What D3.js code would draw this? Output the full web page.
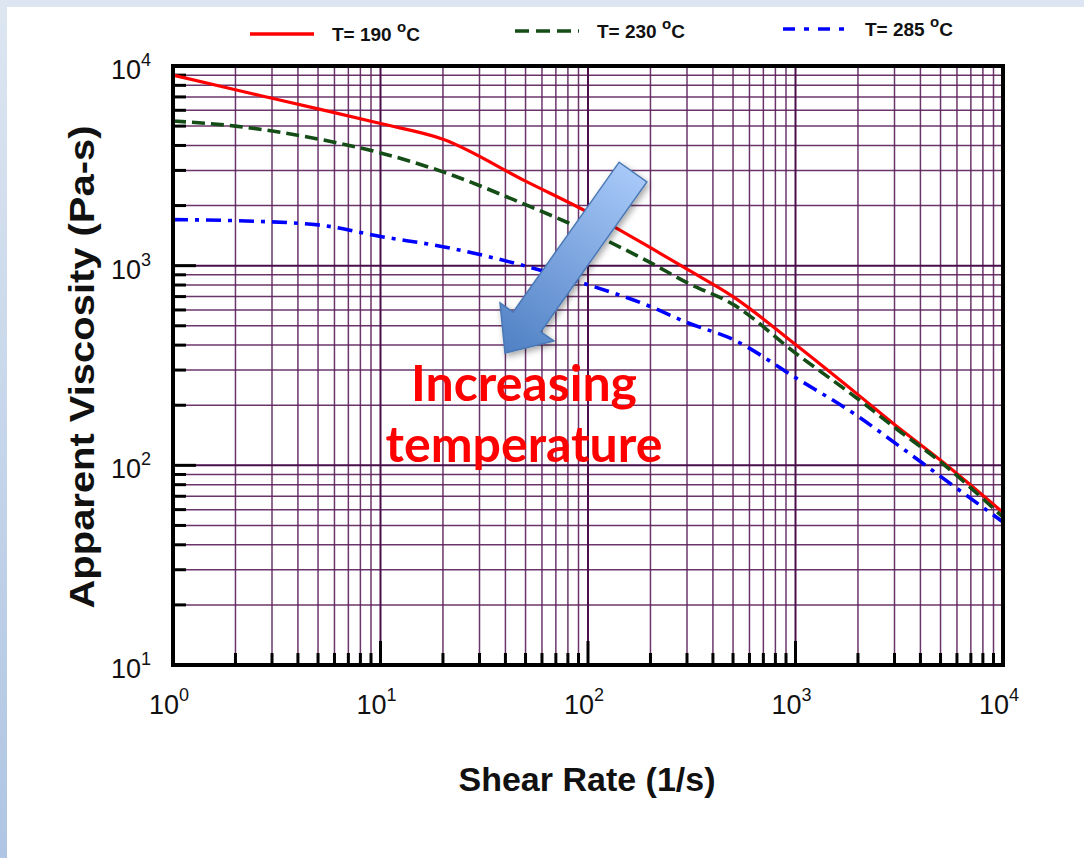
<!DOCTYPE html>
<html>
<head>
<meta charset="utf-8">
<script src="https://cdn.jsdelivr.net/npm/d3@7"></script>
<style>
  body { margin: 0; background: #fff; }
  svg { display: block; }
</style>
</head>
<body>
<div id="chart"></div>
<script>
// shear rate (1/s) and apparent viscosity (Pa-s)
var shearRates = [1, 2, 5, 10, 20, 50, 100, 200, 300, 500, 1000, 2000, 3000, 5000, 10000];
var visc190 = [9000, 7600, 6100, 5150, 4300, 2650, 1850, 1230, 960, 700, 403, 226, 160, 106, 58];
var visc230 = [5300, 5000, 4310, 3670, 2950, 2020, 1480, 1035, 822, 640, 365, 215, 155, 104, 55];
var visc285 = [1700, 1680, 1600, 1400, 1245, 995, 803, 624, 519, 427, 275, 176, 130, 88, 52];
var seriesNames = ['190', '230', '285'];
var xDecades = [1, 10, 100, 1000, 10000];
var yDecades = [10, 100, 1000, 10000];

var width = 1084, height = 858;
var plotLeft = 173, plotRight = 1003, plotTop = 66, plotBottom = 665;

var svg = d3.select('#chart').append('svg')
  .attr('width', width)
  .attr('height', height);

var defs = svg.append('defs');

/* page background bands */
var bandGrad = defs.append('linearGradient').attr('id', 'band')
  .attr('x1', 0).attr('y1', 0).attr('x2', 0).attr('y2', 1);
bandGrad.append('stop').attr('offset', '0%').attr('stop-color', '#dde6f1');
bandGrad.append('stop').attr('offset', '100%').attr('stop-color', '#afc5e3');

svg.append('rect').attr('width', width).attr('height', 7).attr('fill', '#dce5f1');
svg.append('rect').attr('width', 7).attr('height', height).attr('fill', 'url(#band)');

/* scales */
var x = d3.scaleLog().domain([1, 10000]).range([plotLeft, plotRight]);
var y = d3.scaleLog().domain([10, 10000]).range([plotBottom, plotTop]);

function minors(domain) {
  var out = [];
  for (var d = domain[0]; d < domain[1]; d *= 10) {
    for (var k = 2; k <= 9; k++) out.push(d * k);
  }
  return out;
}
var xMinor = minors([1, 10000]);
var yMinor = minors([10, 10000]);

/* grid */
var grid = svg.append('g').attr('class', 'grid');
grid.selectAll('.vminor').data(xMinor).enter().append('line')
  .attr('x1', d => x(d)).attr('x2', d => x(d))
  .attr('y1', plotTop).attr('y2', plotBottom)
  .attr('stroke', '#5b1f5b').attr('stroke-width', 1.5).attr('stroke-opacity', 0.9);
grid.selectAll('.hminor').data(yMinor).enter().append('line')
  .attr('y1', d => y(d)).attr('y2', d => y(d))
  .attr('x1', plotLeft).attr('x2', plotRight)
  .attr('stroke', '#5b1f5b').attr('stroke-width', 1.5).attr('stroke-opacity', 0.9);
grid.selectAll('.vmajor').data(xDecades.slice(1, -1)).enter().append('line')
  .attr('x1', d => x(d)).attr('x2', d => x(d))
  .attr('y1', plotTop).attr('y2', plotBottom)
  .attr('stroke', '#4a0f4a').attr('stroke-width', 2);
grid.selectAll('.hmajor').data(yDecades.slice(1, -1)).enter().append('line')
  .attr('y1', d => y(d)).attr('y2', d => y(d))
  .attr('x1', plotLeft).attr('x2', plotRight)
  .attr('stroke', '#4a0f4a').attr('stroke-width', 2);

/* inward ticks */
var ticks = svg.append('g').attr('stroke', '#000').attr('stroke-width', 3);
ticks.selectAll('.xt').data(xMinor).enter().append('line')
  .attr('x1', d => x(d)).attr('x2', d => x(d))
  .attr('y1', plotBottom).attr('y2', plotBottom - 12);
ticks.selectAll('.xT').data(xDecades.slice(1, -1)).enter().append('line')
  .attr('x1', d => x(d)).attr('x2', d => x(d))
  .attr('y1', plotBottom).attr('y2', plotBottom - 24);
ticks.selectAll('.yt').data(yMinor).enter().append('line')
  .attr('y1', d => y(d)).attr('y2', d => y(d))
  .attr('x1', plotLeft).attr('x2', plotLeft + 13);
ticks.selectAll('.yT').data(yDecades.slice(1, -1)).enter().append('line')
  .attr('y1', d => y(d)).attr('y2', d => y(d))
  .attr('x1', plotLeft).attr('x2', plotLeft + 23);

/* curves */
var line = d3.line()
  .x(d => x(d[0]))
  .y(d => y(d[1]))
  .curve(d3.curveMonotoneX);

var series = [
  { name: seriesNames[0], values: visc190, color: '#ff0000', dash: null, legendDash: null, w: 3.2 },
  { name: seriesNames[1], values: visc230, color: '#144d16', dash: '13,6', legendDash: '14,7', w: 3.6 },
  { name: seriesNames[2], values: visc285, color: '#0000ff', dash: '15,7,4,7', legendDash: '12,9,5,9', w: 3.6 }
];

var plot = svg.append('g');
plot.selectAll('path').data(series).enter().append('path')
  .attr('d', s => line(shearRates.map((r, i) => [r, s.values[i]])))
  .attr('fill', 'none')
  .attr('stroke', s => s.color)
  .attr('stroke-width', s => s.w)
  .attr('stroke-dasharray', s => s.dash);

/* frame */
svg.append('rect')
  .attr('x', plotLeft).attr('y', plotTop)
  .attr('width', plotRight - plotLeft).attr('height', plotBottom - plotTop)
  .attr('fill', 'none').attr('stroke', '#000').attr('stroke-width', 4);

/* tick labels */
var font = "'Liberation Sans', Arial, sans-serif";
function powLabel(g, exp) {
  g.append('tspan').text('10');
  g.append('tspan').attr('dy', -13).attr('font-size', 18).text(exp);
}
svg.selectAll('.xl').data(xDecades).enter().append('text')
  .attr('x', d => x(d) - 4).attr('y', plotBottom + 49)
  .attr('text-anchor', 'middle')
  .attr('font-family', font).attr('font-size', 27).attr('fill', '#111')
  .each(function (d) { powLabel(d3.select(this), Math.round(Math.log10(d))); });
svg.selectAll('.yl').data(yDecades).enter().append('text')
  .attr('x', plotLeft - 22).attr('y', d => y(d) + 13)
  .attr('text-anchor', 'end')
  .attr('font-family', font).attr('font-size', 27).attr('fill', '#111')
  .each(function (d) { powLabel(d3.select(this), Math.round(Math.log10(d))); });

/* axis titles */
svg.append('text')
  .attr('x', 587).attr('y', 791)
  .attr('text-anchor', 'middle')
  .attr('font-family', font).attr('font-weight', 'bold').attr('font-size', 34)
  .attr('fill', '#111')
  .text('Shear Rate (1/s)');
svg.append('text')
  .attr('transform', 'translate(94,367) rotate(-90)')
  .attr('text-anchor', 'middle')
  .attr('font-family', font).attr('font-weight', 'bold').attr('font-size', 35)
  .attr('textLength', 483).attr('lengthAdjust', 'spacingAndGlyphs')
  .attr('fill', '#111')
  .text('Apparent Viscosity (Pa-s)');

/* legend */
var legendPos = [[250, 34], [515, 31], [783, 29]];
var legend = svg.selectAll('.legend').data(series).enter().append('g')
  .attr('transform', (d, i) => `translate(${legendPos[i][0]},${legendPos[i][1]})`);
legend.append('line')
  .attr('x1', 0).attr('x2', 64).attr('y1', 0).attr('y2', 0)
  .attr('stroke', d => d.color).attr('stroke-width', 3.5)
  .attr('stroke-dasharray', d => d.legendDash);
var lt = legend.append('text')
  .attr('x', 82).attr('y', 7)
  .attr('font-family', font).attr('font-weight', 'bold').attr('font-size', 19)
  .attr('fill', '#111');
lt.append('tspan').text(d => 'T= ' + d.name + ' ');
lt.append('tspan').attr('dy', -9).attr('font-size', 15).text('o');
lt.append('tspan').attr('dy', 9).text('C');

/* arrow annotation */
var tail = [633, 172], tip = [505, 353];
var ang = Math.atan2(tail[1] - tip[1], tail[0] - tip[0]);
var len = Math.hypot(tail[0] - tip[0], tail[1] - tip[1]);
var arrowGrad = defs.append('linearGradient').attr('id', 'arrowGrad')
  .attr('gradientUnits', 'userSpaceOnUse')
  .attr('x1', tail[0]).attr('y1', tail[1]).attr('x2', tip[0]).attr('y2', tip[1]);
arrowGrad.append('stop').attr('offset', '0%').attr('stop-color', '#a7c8f8');
arrowGrad.append('stop').attr('offset', '100%').attr('stop-color', '#4f80c4');
var shadow = defs.append('filter').attr('id', 'shadow')
  .attr('x', '-20%').attr('y', '-20%').attr('width', '140%').attr('height', '140%');
shadow.append('feDropShadow').attr('dx', 2).attr('dy', 3).attr('stdDeviation', 3)
  .attr('flood-color', '#000').attr('flood-opacity', 0.35);

var h = 38, hw = 33, sw = 17;
var pts = [[0, 0], [h, -hw], [h, -sw], [len, -sw], [len, sw], [h, sw], [h, hw]].map(p => [
  tip[0] + p[0] * Math.cos(ang) - p[1] * Math.sin(ang),
  tip[1] + p[0] * Math.sin(ang) + p[1] * Math.cos(ang)
]);
svg.append('polygon')
  .attr('points', pts.map(p => p.join(',')).join(' '))
  .attr('fill', 'url(#arrowGrad)')
  .attr('stroke', '#4a78b5').attr('stroke-width', 1.5)
  .attr('filter', 'url(#shadow)');

var noteFont = "Lato, 'Open Sans', sans-serif";
svg.append('text')
  .attr('x', 524).attr('y', 401)
  .attr('text-anchor', 'middle')
  .attr('font-family', noteFont).attr('font-weight', 'bold').attr('font-size', 50)
  .attr('fill', '#ff0000')
  .text('Increasing');
svg.append('text')
  .attr('x', 524).attr('y', 462)
  .attr('text-anchor', 'middle')
  .attr('font-family', noteFont).attr('font-weight', 'bold').attr('font-size', 50)
  .attr('fill', '#ff0000')
  .text('temperature');
</script>
</body>
</html>
